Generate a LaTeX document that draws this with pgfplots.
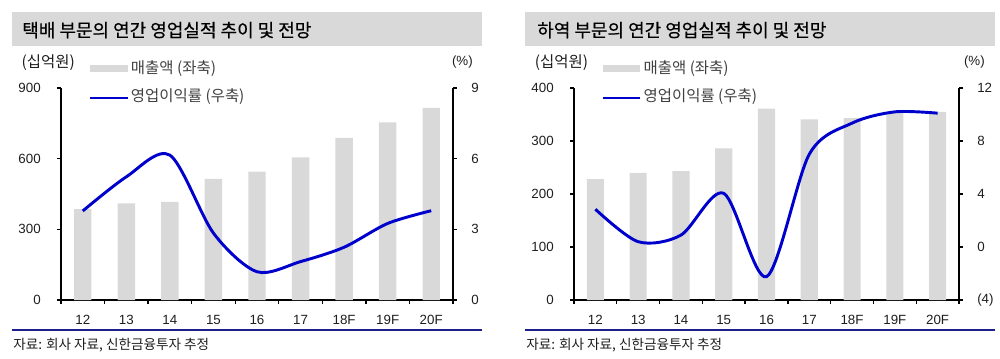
\documentclass[border=0pt]{standalone}
\usepackage{fontspec}
\setmainfont{Liberation Sans}
\newfontfamily\kr{Noto Sans CJK KR}
\newfontfamily\krt[FakeBold=0.4]{Noto Sans CJK KR}
\usepackage{pgfplots}
\pgfplotsset{compat=1.18}
\definecolor{bargray}{RGB}{217,217,217}
\definecolor{titlegray}{RGB}{217,217,217}
\definecolor{lineblue}{RGB}{0,0,204}
\definecolor{rulenavy}{RGB}{30,30,140}
\definecolor{txt}{RGB}{30,30,30}
\pgfplotsset{
  base/.style={
    scale only axis, height=159pt, xmin=-0.5, xmax=8.5,
    axis line style={line width=1.2pt, black},
    tick align=outside, major tick length=3pt, minor tick length=3pt,
    every tick/.style={line width=1pt, black},
    /pgf/number format/assume math mode=true,
    tick label style={font=\fontsize{10}{12}\selectfont, text=txt},
    clip=false,
  },
  leftax/.style={
    base, axis x line*=bottom, axis y line*=left,
    xtick={0,...,8}, xticklabels={12,13,14,15,16,17,18F,19F,20F},
    major x tick style={draw=none},
    minor xtick={-0.5,0.5,...,8.5},
    xticklabel style={anchor=center, inner sep=0pt, yshift=-12pt},
    yticklabel style={anchor=east, inner sep=0pt, xshift=-12pt},
  },
  rightax/.style={
    base, axis x line=none, axis y line*=right,
    yticklabel style={anchor=west, inner sep=0pt, xshift=10.5pt},
  },
}
\begin{document}
\begin{tikzpicture}
% ---------- left chart ----------
\fill[titlegray] (9pt,-9pt) rectangle (361.5pt,-34.5pt);
\node[anchor=west, inner sep=0pt, font=\krt\fontsize{13.5}{15}\selectfont, text=black] at (16.5pt,-22.6pt) {택배 부문의 연간 영업실적 추이 및 전망};
\node[anchor=west, inner sep=0pt, font=\kr\fontsize{11.6}{13}\selectfont, text=txt] at (16pt,-47.2pt) {(십억원)};
\node[anchor=east, inner sep=0pt, font=\fontsize{10}{12}\selectfont, text=txt] at (354.75pt,-46.5pt) {(\%)};
\fill[bargray] (67.5pt,-48.75pt) rectangle (96pt,-54pt);
\node[anchor=west, inner sep=0pt, font=\kr\fontsize{11.6}{13}\selectfont, text=txt!85] at (98pt,-51.2pt) {매출액 (좌축)};
\draw[lineblue, line width=1.6pt] (67.5pt,-73.2pt) -- (96pt,-73.2pt);
\node[anchor=west, inner sep=0pt, font=\kr\fontsize{11.6}{13}\selectfont, text=txt!85] at (98pt,-72.5pt) {영업이익률 (우축)};

\begin{axis}[leftax, width=294pt, at={(45.75pt,-225pt)}, anchor=south west,
  ymin=0, ymax=900, ytick={0,300,600,900}]
  \addplot[ybar, fill=bargray, draw=none, bar width=0.4, bar shift=0pt]
    coordinates {(0,386)(1,410)(2,417)(3,514)(4,545)(5,606)(6,688)(7,754)(8,816)};
\end{axis}
\begin{axis}[rightax, width=294pt, at={(45.75pt,-225pt)}, anchor=south west,
  ymin=0, ymax=9, ytick={0,3,6,9}]
  \addplot[lineblue, line width=2.2pt, smooth]
    coordinates {(0,3.78)(1,5.23)(2,6.15)(3,2.84)(4,1.2)(5,1.63)(6,2.24)(7,3.25)(8,3.79)};
\end{axis}
\draw[rulenavy, line width=0.9pt] (9pt,-247.5pt) -- (361.5pt,-247.5pt);
\node[anchor=west, inner sep=0pt, font=\kr\fontsize{10.2}{12}\selectfont, text=txt] at (9.75pt,-258.8pt) {자료: 회사 자료, 신한금융투자 추정};

% ---------- right chart ----------
\fill[titlegray] (393.75pt,-9pt) rectangle (746.25pt,-34.5pt);
\node[anchor=west, inner sep=0pt, font=\krt\fontsize{13.5}{15}\selectfont, text=black] at (402.75pt,-22.6pt) {하역 부문의 연간 영업실적 추이 및 전망};
\node[anchor=west, inner sep=0pt, font=\kr\fontsize{11.6}{13}\selectfont, text=txt] at (401pt,-47.2pt) {(십억원)};
\node[anchor=east, inner sep=0pt, font=\fontsize{10}{12}\selectfont, text=txt] at (738.75pt,-46.5pt) {(\%)};
\fill[bargray] (452.25pt,-48.75pt) rectangle (480pt,-54pt);
\node[anchor=west, inner sep=0pt, font=\kr\fontsize{11.6}{13}\selectfont, text=txt!85] at (482.5pt,-51.2pt) {매출액 (좌축)};
\draw[lineblue, line width=1.6pt] (452.25pt,-73.2pt) -- (480pt,-73.2pt);
\node[anchor=west, inner sep=0pt, font=\kr\fontsize{11.6}{13}\selectfont, text=txt!85] at (482.5pt,-72.5pt) {영업이익률 (우축)};

\begin{axis}[leftax, width=288.75pt, at={(430.5pt,-225pt)}, anchor=south west,
  ymin=0, ymax=400, ytick={0,100,200,300,400}]
  \addplot[ybar, fill=bargray, draw=none, bar width=0.4, bar shift=0pt]
    coordinates {(0,228)(1,240)(2,243)(3,286)(4,361)(5,341)(6,343)(7,353)(8,355)};
\end{axis}
\begin{axis}[rightax, width=288.75pt, at={(430.5pt,-225pt)}, anchor=south west,
  ymin=-4, ymax=12, ytick={-4,0,4,8,12}, yticklabels={(4),0,4,8,12}]
  \addplot[lineblue, line width=2.2pt, smooth]
    coordinates {(0,2.85)(1,0.4)(2,0.9)(3,4.05)(4,-2.24)(5,7.0)(6,9.35)(7,10.2)(8,10.1)};
\end{axis}
\draw[rulenavy, line width=0.9pt] (393.75pt,-247.5pt) -- (746.25pt,-247.5pt);
\node[anchor=west, inner sep=0pt, font=\kr\fontsize{10.2}{12}\selectfont, text=txt] at (394.5pt,-258.8pt) {자료: 회사 자료, 신한금융투자 추정};

\pgfresetboundingbox
\path[use as bounding box] (0pt,0pt) rectangle (750pt,-268.5pt);
\end{tikzpicture}
\end{document}
